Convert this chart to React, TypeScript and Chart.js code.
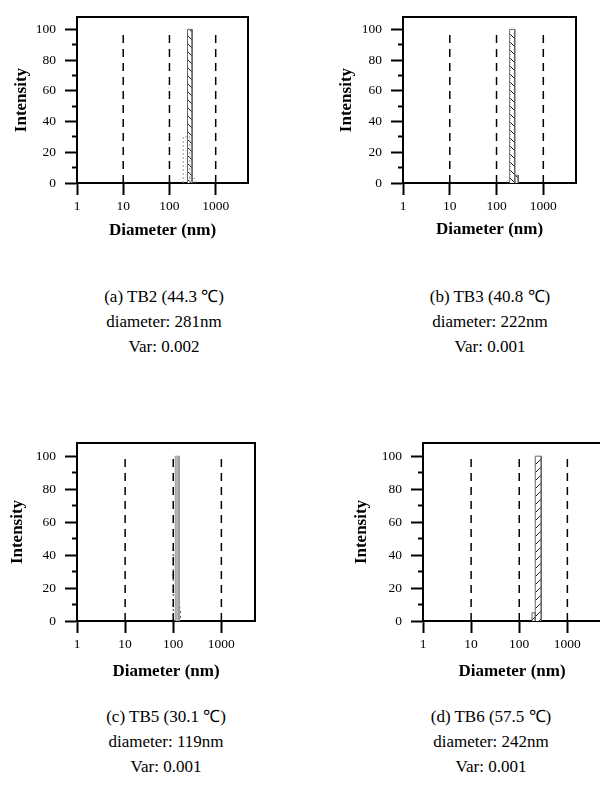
import React, { useEffect, useRef } from 'react';
import { Chart, registerables } from 'chart.js';

Chart.register(...registerables);

const FONT = '"Liberation Serif", "Times New Roman", serif';

// ---- shared axis data ----
const xTickValues = [1, 10, 100, 1000];
const yMajorTicks = [0, 20, 40, 60, 80, 100];
const yMinorTicks = [10, 30, 50, 70, 90];
const guideDiameters = [10, 100, 1000];
const guideIntensity = [0, 100];
const xMin = 1;
const xMax = 5000;
const yMin = 0;
const yMax = 108;
const xTitle = 'Diameter (nm)';
const yTitle = 'Intensity';

// ---- (a) TB2 ----
const tb2BinLow = [198, 276, 246];
const tb2BinHigh = [276, 355, 309];
const tb2Intensity = [30, 3, 100];
const tb2Caption = ['(a) TB2 (44.3 ℃)', 'diameter: 281nm', 'Var: 0.002'];

// ---- (b) TB3 ----
const tb3BinLow = [191, 245];
const tb3BinHigh = [245, 290];
const tb3Intensity = [100, 5];
const tb3Caption = ['(b) TB3 (40.8 ℃)', 'diameter: 222nm', 'Var: 0.001'];

// ---- (c) TB5 ----
const tb5BinLow = [110, 100, 118];
const tb5BinHigh = [133, 118, 140];
const tb5Intensity = [100, 44, 8];
const tb5Caption = ['(c) TB5 (30.1 ℃)', 'diameter: 119nm', 'Var: 0.001'];

// ---- (d) TB6 ----
const tb6BinLow = [184, 215];
const tb6BinHigh = [215, 286];
const tb6Intensity = [5, 100];
const tb6Caption = ['(d) TB6 (57.5 ℃)', 'diameter: 242nm', 'Var: 0.001'];

type Layout = {
  box: { left: number; top: number; width: number; height: number };
  area: { l: number; r: number; t: number; b: number };
  yTitleX: number;
  xTitleY: number;
  cap: { cx: number; cy: number };
};

const LAYOUTS: Layout[] = [
  { box: { left: 0, top: 0, width: 300, height: 260 }, area: { l: 77, r: 248, t: 13, b: 183 }, yTitleX: 22, xTitleY: 231, cap: { cx: 164, cy: 296 } },
  { box: { left: 300, top: 0, width: 300, height: 260 }, area: { l: 403, r: 576, t: 11, b: 183 }, yTitleX: 347, xTitleY: 230, cap: { cx: 490, cy: 296 } },
  { box: { left: 0, top: 420, width: 300, height: 270 }, area: { l: 77, r: 255, t: 443, b: 621 }, yTitleX: 18, xTitleY: 672, cap: { cx: 166, cy: 716 } },
  { box: { left: 300, top: 420, width: 310, height: 270 }, area: { l: 423, r: 601, t: 443, b: 621 }, yTitleX: 362, xTitleY: 672, cap: { cx: 491, cy: 716 } },
];

type BinStyle = 'hatchB' | 'hatchF' | 'dotted' | 'gray' | 'dottedDark';

function makeHatch(ctx: CanvasRenderingContext2D, dir: 1 | -1): CanvasPattern | string {
  const c = document.createElement('canvas');
  const n = 8;
  c.width = n;
  c.height = n;
  const g = c.getContext('2d');
  if (!g) return '#fff';
  g.fillStyle = '#fff';
  g.fillRect(0, 0, n, n);
  g.strokeStyle = '#222';
  g.lineWidth = 1;
  g.beginPath();
  if (dir > 0) {
    g.moveTo(-1, n + 1); g.lineTo(n + 1, -1);
    g.moveTo(-1, 1); g.lineTo(1, -1);
    g.moveTo(n - 1, n + 1); g.lineTo(n + 1, n - 1);
  } else {
    g.moveTo(-1, -1); g.lineTo(n + 1, n + 1);
    g.moveTo(n - 1, -1); g.lineTo(n + 1, 1);
    g.moveTo(-1, n - 1); g.lineTo(1, n + 1);
  }
  g.stroke();
  return ctx.createPattern(c, 'repeat') || '#fff';
}

function Panel(props: {
  layout: Layout;
  binLow: number[];
  binHigh: number[];
  intensity: number[];
  styles: BinStyle[];
  caption: string[];
}) {
  const { layout, binLow, binHigh, intensity, styles, caption } = props;
  const ref = useRef<HTMLCanvasElement>(null);

  useEffect(() => {
    const canvas = ref.current;
    if (!canvas) return;
    const ctx = canvas.getContext('2d');
    if (!ctx) return;
    const { box, area } = layout;
    const titleLH = 17 * 1.2;

    const datasets: any[] = [];
    binLow.forEach((lo, i) => {
      const hi = binHigh[i];
      const h = intensity[i];
      const st = styles[i];
      let bg: any = 'rgba(0,0,0,0)';
      let bc = '#666';
      let dash: number[] = [];
      if (st === 'hatchB') bg = makeHatch(ctx, -1);
      if (st === 'hatchF') bg = makeHatch(ctx, 1);
      if (st === 'gray') { bg = '#b4b4b4'; bc = '#999'; }
      if (st === 'dotted') { bc = '#999'; dash = [2, 2]; }
      if (st === 'dottedDark') { bc = '#333'; dash = [2, 3]; }
      datasets.push({
        type: 'line',
        data: [
          { x: lo, y: 0 },
          { x: lo, y: h },
          { x: hi, y: h },
          { x: hi, y: 0 },
        ],
        borderColor: bc,
        borderWidth: 1,
        borderDash: dash,
        backgroundColor: bg,
        fill: 'origin',
        pointRadius: 0,
        tension: 0,
        order: 2,
      });
    });
    guideDiameters.forEach((d) => {
      datasets.push({
        type: 'line',
        data: guideIntensity.map((v) => ({ x: d, y: v })),
        borderColor: '#000',
        borderWidth: 1.5,
        borderDash: [8, 6],
        pointRadius: 0,
        fill: false,
        order: 1,
      });
    });

    const chart = new Chart(ctx, {
      type: 'line',
      data: { datasets },
      options: {
        animation: false,
        responsive: false,
        devicePixelRatio: 1,
        events: [],
        layout: {
          padding: {
            left: 0,
            top: area.t - box.top,
            right: box.left + box.width - area.r,
            bottom: 0,
          },
        },
        plugins: { legend: { display: false }, tooltip: { enabled: false } },
        scales: {
          x: {
            type: 'logarithmic',
            position: 'bottom',
            min: xMin,
            max: xMax,
            afterBuildTicks: (s: any) => { s.ticks = xTickValues.map((v) => ({ value: v })); },
            afterFit: (s: any) => { s.height = box.top + box.height - area.b; },
            ticks: {
              autoSkip: false,
              maxRotation: 0,
              padding: 3,
              color: '#000',
              font: { family: FONT, size: 13.5 },
              callback: (v: any) => String(v),
            },
            grid: { display: true, drawOnChartArea: false, drawTicks: true, tickLength: 12, tickWidth: 2, tickColor: '#000' },
            border: { display: true, color: '#000', width: 2 },
            title: {
              display: true,
              text: xTitle,
              color: '#000',
              font: { family: FONT, size: 17, weight: 'bold' },
              padding: { top: 0, bottom: box.top + box.height - layout.xTitleY - titleLH / 2 },
            },
          },
          y: {
            type: 'linear',
            position: 'left',
            weight: 1,
            min: yMin,
            max: yMax,
            afterBuildTicks: (s: any) => { s.ticks = yMajorTicks.map((v) => ({ value: v })); },
            afterFit: (s: any) => { s.width = area.l - box.left; },
            ticks: {
              padding: 9,
              color: '#000',
              font: { family: FONT, size: 13.5 },
              callback: (v: any) => String(v),
            },
            grid: { display: true, drawOnChartArea: false, drawTicks: true, tickLength: 12, tickWidth: 2, tickColor: '#000' },
            border: { display: true, color: '#000', width: 2 },
            title: {
              display: true,
              text: yTitle,
              color: '#000',
              font: { family: FONT, size: 17, weight: 'bold' },
              padding: { top: layout.yTitleX - box.left - titleLH / 2, bottom: 0 },
            },
          },
          yMinor: {
            type: 'linear',
            position: 'left',
            weight: -1,
            min: yMin,
            max: yMax,
            afterBuildTicks: (s: any) => { s.ticks = yMinorTicks.map((v) => ({ value: v })); },
            afterFit: (s: any) => { s.width = 0; },
            ticks: { display: false },
            grid: { display: true, drawOnChartArea: false, drawTicks: true, tickLength: 5, tickWidth: 2, tickColor: '#000' },
            border: { display: false },
          },
          xTop: {
            type: 'logarithmic',
            position: 'top',
            min: xMin,
            max: xMax,
            afterFit: (s: any) => { s.height = 0; },
            ticks: { display: false },
            grid: { display: false, drawTicks: false },
            border: { display: true, color: '#000', width: 2 },
          },
          yRight: {
            type: 'linear',
            position: 'right',
            min: yMin,
            max: yMax,
            afterFit: (s: any) => { s.width = 0; },
            ticks: { display: false },
            grid: { display: false, drawTicks: false },
            border: { display: true, color: '#000', width: 2 },
          },
        },
      } as any,
    });
    return () => chart.destroy();
  }, []);

  const { box, cap } = layout;
  return (
    <>
      <canvas
        ref={ref}
        width={box.width}
        height={box.height}
        style={{ position: 'absolute', left: box.left, top: box.top, width: box.width, height: box.height }}
      />
      <div
        style={{
          position: 'absolute',
          left: cap.cx - 150,
          top: cap.cy - 12.5,
          width: 300,
          textAlign: 'center',
          fontFamily: FONT,
          fontSize: 17,
          lineHeight: '25px',
          color: '#000',
          whiteSpace: 'pre',
        }}
      >
        {caption.map((t, i) => (
          <div key={i}>{t}</div>
        ))}
      </div>
    </>
  );
}

export default function App() {
  return (
    <div
      style={{
        position: 'absolute',
        left: 0,
        top: 0,
        width: 600,
        height: 794,
        overflow: 'hidden',
        background: '#fff',
      }}
    >
      <Panel layout={LAYOUTS[0]} binLow={tb2BinLow} binHigh={tb2BinHigh} intensity={tb2Intensity} styles={['dotted', 'dotted', 'hatchB']} caption={tb2Caption} />
      <Panel layout={LAYOUTS[1]} binLow={tb3BinLow} binHigh={tb3BinHigh} intensity={tb3Intensity} styles={['hatchB', 'hatchB']} caption={tb3Caption} />
      <Panel layout={LAYOUTS[2]} binLow={tb5BinLow} binHigh={tb5BinHigh} intensity={tb5Intensity} styles={['gray', 'dottedDark', 'dottedDark']} caption={tb5Caption} />
      <Panel layout={LAYOUTS[3]} binLow={tb6BinLow} binHigh={tb6BinHigh} intensity={tb6Intensity} styles={['hatchF', 'hatchF']} caption={tb6Caption} />
    </div>
  );
}
